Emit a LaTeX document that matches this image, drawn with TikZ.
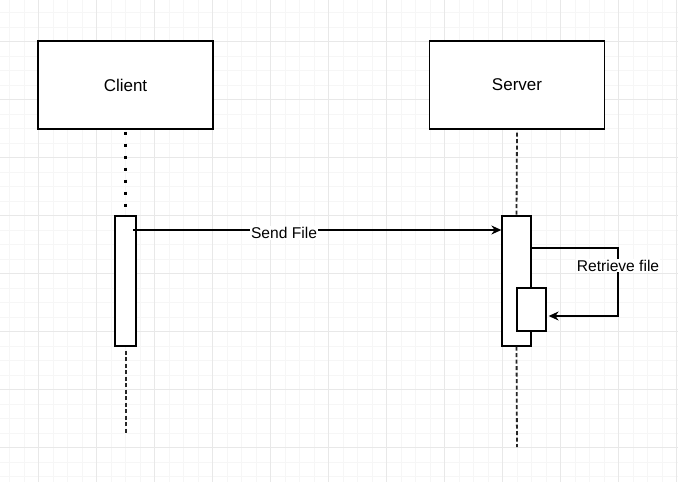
\documentclass[tikz,border=0pt]{standalone}
\usepackage{fontspec}
\setmainfont{Liberation Sans}
\usetikzlibrary{arrows.meta}
\definecolor{gridminor}{HTML}{F6F6F6}
\definecolor{gridmajor}{HTML}{E8E8E8}
\begin{document}
\begin{tikzpicture}[x=1pt,y=-1pt,thick,
    minor line/.style={gridminor,line width=0.7pt},
    major line/.style={gridmajor,line width=0.7pt},
    head node/.style={rectangle,draw,line width=1.3pt,fill=white,minimum width=175pt,minimum height=88pt,inner sep=0pt,font=\fontsize{17}{20}\selectfont},
    act node/.style={rectangle,draw,line width=1.3pt,fill=white,inner sep=0pt},
    life line/.style={line width=1.8pt,black!85,dash pattern=on 4pt off 2.5pt},
    msg/.style={line width=1.2pt,-{Stealth[length=10pt,width=9pt]}},
    msg label/.style={fill=white,inner sep=1pt,font=\fontsize{15.6}{18}\selectfont}]
    \useasboundingbox (0,0) rectangle (678,482);
    \clip (0,0) rectangle (678,482);
    \fill[white] (0,0) rectangle (678,482);
    % grid
    \foreach \i in {0,...,47} {
        \draw[minor line] ({-5+14.5*\i},0) -- ++(0,482);
        \draw[minor line] (0,{-2+14.5*\i}) -- ++(678,0);
    }
    \foreach \i in {0,...,12} {
        \draw[major line] ({-19.5+58*\i},0) -- ++(0,482);
        \draw[major line] (0,{-16.5+58*\i}) -- ++(678,0);
    }

    \node[head node] at (125.5, 85) (client) {Client};
    \node[head node] at (517, 85) (server) {Server};
    \node[act node, minimum width=21pt, minimum height=130pt] at (125.5, 281) (clientAct) {};
    \node[act node, minimum width=29pt, minimum height=130pt] at (516.5, 281) (serverAct) {};

    \coordinate (clientEnd) at (126, 433);
    \coordinate (serverEnd) at (517, 447);
    \coordinate (sendStart) at (133, 230);
    \coordinate (loopTop) at (618, 248);
    \coordinate (loopBot) at (618, 316);

    % lifelines
    \draw[line width=3pt,dash pattern=on 3pt off 9pt] ([yshift=-2pt]client.south) -- (clientAct.north);
    \draw[life line] ([yshift=-4pt]clientAct.south -| clientEnd) -- (clientEnd);
    \draw[life line] ([yshift=-3pt]server.south) -- (serverAct.north);
    \draw[life line] (serverAct.south) -- (serverEnd);

    \node[act node, minimum width=29pt, minimum height=43pt] at (531.5, 309.5) (serverSub) {};

    % messages
    \draw[msg] (sendStart) -- node[msg label, pos=0.41, yshift=-3pt] {Send File} (sendStart -| serverAct.west);
    \draw[msg, shorten >=2pt] (serverAct.east |- loopTop) -- (loopTop)
        -- node[msg label, pos=0.26] {Retrieve file} (loopBot)
        -- (serverSub.east |- loopBot);
\end{tikzpicture}
\end{document}
